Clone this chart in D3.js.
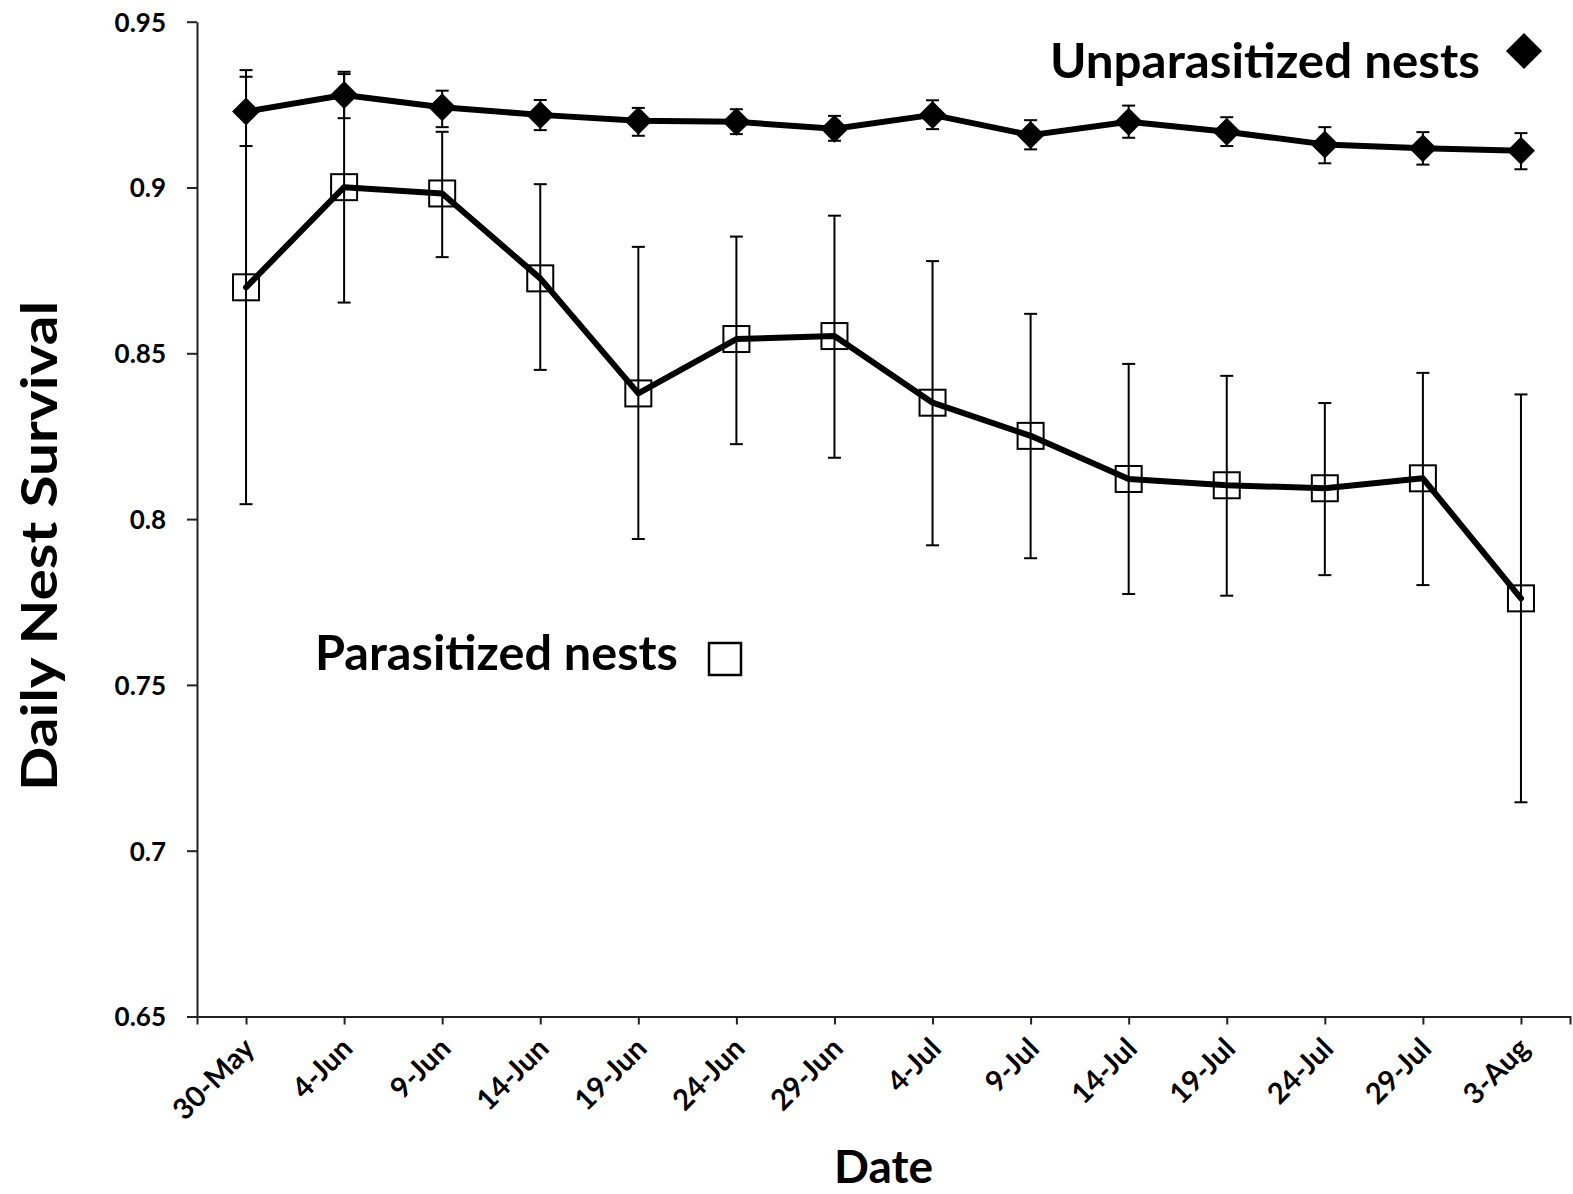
<!DOCTYPE html>
<html lang="en">
<head>
    <meta charset="UTF-8">
    <title>Daily Nest Survival</title>
    <script src="https://cdnjs.cloudflare.com/ajax/libs/d3/7.8.5/d3.min.js" charset="utf-8"></script>
    <style>
        body { margin: 0; background: #fff; }
        text { font-family: Lato, "Open Sans", sans-serif; font-weight: bold; fill: #000; }
    </style>
</head>
<body>
<svg id="chart" width="1573" height="1194"></svg>

<script type="application/javascript">
    var dates = ['30-May', '4-Jun', '9-Jun', '14-Jun', '19-Jun', '24-Jun', '29-Jun',
        '4-Jul', '9-Jul', '14-Jul', '19-Jul', '24-Jul', '29-Jul', '3-Aug'];

    var yTicks = [0.65, 0.7, 0.75, 0.8, 0.85, 0.9, 0.95];

    // unparasitized nests (mean, upper and lower bar ends)
    var unparMean = [0.9229, 0.9279, 0.9242, 0.9219, 0.9201, 0.9198, 0.9177, 0.9219, 0.9158, 0.9198, 0.9168, 0.9130, 0.9118, 0.9111];
    var unparHigh = [0.9334, 0.9342, 0.9292, 0.9264, 0.9240, 0.9236, 0.9216, 0.9263, 0.9203, 0.9247, 0.9212, 0.9182, 0.9167, 0.9164];
    var unparLow  = [0.9125, 0.9209, 0.9182, 0.9173, 0.9156, 0.9161, 0.9141, 0.9176, 0.9115, 0.9150, 0.9125, 0.9073, 0.9069, 0.9055];

    // parasitized nests
    var parMean = [0.8699, 0.9001, 0.8982, 0.8726, 0.8379, 0.8543, 0.8552, 0.8351, 0.8251, 0.8121, 0.8102, 0.8093, 0.8123, 0.7761];
    var parHigh = [0.9354, 0.9349, 0.9168, 0.9010, 0.8821, 0.8852, 0.8915, 0.8778, 0.8619, 0.8468, 0.8432, 0.8350, 0.8441, 0.8376];
    var parLow  = [0.8045, 0.8653, 0.8790, 0.8450, 0.7940, 0.8226, 0.8185, 0.7921, 0.7882, 0.7774, 0.7769, 0.7831, 0.7801, 0.7146];

    var plot = {left: 197, right: 1570, top: 21.7, bottom: 1016.5};

    var svg = d3.select('#chart');

    var x = d3.scalePoint()
            .domain(dates)
            .range([plot.left, plot.right])
            .padding(0.5);

    var y = d3.scaleLinear()
            .domain([0.65, 0.95])
            .range([plot.bottom, plot.top]);

    function rows(mean, low, high) {
        return dates.map(function (d, i) {
            return {date: d, mean: mean[i], low: low[i], high: high[i]};
        });
    }

    // d3's diamond2 puts its corners at sqrt(size) * 0.62625
    function diamondSize(halfDiag) {
        return Math.pow(halfDiag / 0.62625, 2);
    }

    var unpar = rows(unparMean, unparLow, unparHigh);
    var par = rows(parMean, parLow, parHigh);

    init();

    function init() {
        renderAxes();
        renderErrorBars(par);
        renderErrorBars(unpar);
        renderLine(par);
        renderLine(unpar);
        renderMarkers();
        renderLabels();
    }

    function renderAxes() {
        var yAxis = svg.append('g')
                .attr('transform', 'translate(' + plot.left + ',0)')
                .call(d3.axisLeft(y)
                        .tickValues(yTicks)
                        .tickSize(10)
                        .tickSizeOuter(0)
                        .tickPadding(21)
                        .tickFormat(function (d) { return String(+d.toFixed(2)); }));
        yAxis.selectAll('text').attr('font-size', '26px').attr('dy', '0.36em');

        var xAxis = svg.append('g')
                .attr('transform', 'translate(0,' + plot.bottom + ')')
                .call(d3.axisBottom(x).tickSize(8).tickSizeOuter(8));
        xAxis.selectAll('.tick text')
                .attr('font-size', '29px')
                .attr('text-anchor', 'end')
                .attr('dy', '0')
                .attr('transform', 'translate(2,26) rotate(-45)');

        svg.selectAll('.domain, .tick line')
                .attr('stroke', '#222')
                .attr('stroke-width', 2);
        svg.selectAll('.tick text').attr('fill', '#000').attr('font-family', 'Lato, sans-serif');
    }

    function renderErrorBars(data) {
        var g = svg.append('g')
                .attr('stroke', '#000')
                .attr('stroke-width', 2);

        g.selectAll('.stem')
                .data(data)
                .enter()
                .append('line')
                .attr('x1', function (d) { return x(d.date); })
                .attr('x2', function (d) { return x(d.date); })
                .attr('y1', function (d) { return y(d.high); })
                .attr('y2', function (d) { return y(d.low); });

        ['high', 'low'].forEach(function (k) {
            g.selectAll('.cap-' + k)
                    .data(data)
                    .enter()
                    .append('line')
                    .attr('x1', function (d) { return x(d.date) - 6.5; })
                    .attr('x2', function (d) { return x(d.date) + 6.5; })
                    .attr('y1', function (d) { return y(d[k]); })
                    .attr('y2', function (d) { return y(d[k]); });
        });
    }

    function renderLine(data) {
        var line = d3.line()
                .x(function (d) { return x(d.date); })
                .y(function (d) { return y(d.mean); });

        svg.append('path')
                .datum(data)
                .attr('d', line)
                .attr('fill', 'none')
                .attr('stroke', '#000')
                .attr('stroke-width', 6)
                .attr('stroke-linejoin', 'round')
                .attr('stroke-linecap', 'round');
    }

    function renderMarkers() {
        var diamond = d3.symbol().type(d3.symbolDiamond2).size(diamondSize(14));

        svg.selectAll('.square')
                .data(par)
                .enter()
                .append('rect')
                .attr('x', function (d) { return x(d.date) - 13; })
                .attr('y', function (d) { return y(d.mean) - 13; })
                .attr('width', 26)
                .attr('height', 26)
                .attr('fill', 'none')
                .attr('stroke', '#000')
                .attr('stroke-width', 2);

        svg.selectAll('.diamond')
                .data(unpar)
                .enter()
                .append('path')
                .attr('d', diamond)
                .attr('transform', function (d) {
                    return 'translate(' + x(d.date) + ',' + y(d.mean) + ')';
                })
                .attr('fill', '#000');

        // legend markers
        svg.append('path')
                .attr('d', d3.symbol().type(d3.symbolDiamond2).size(diamondSize(18))())
                .attr('transform', 'translate(1524,51)')
                .attr('fill', '#000');

        svg.append('rect')
                .attr('x', 709)
                .attr('y', 643)
                .attr('width', 32)
                .attr('height', 32)
                .attr('fill', 'none')
                .attr('stroke', '#000')
                .attr('stroke-width', 2.5);
    }

    function renderLabels() {
        svg.append('text')
                .attr('x', 1050)
                .attr('y', 78)
                .attr('font-size', '48px')
                .attr('textLength', 430)
                .attr('lengthAdjust', 'spacingAndGlyphs')
                .text('Unparasitized nests');

        svg.append('text')
                .attr('x', 315)
                .attr('y', 670)
                .attr('font-size', '48px')
                .attr('textLength', 363)
                .attr('lengthAdjust', 'spacingAndGlyphs')
                .text('Parasitized nests');

        svg.append('text')
                .attr('transform', 'translate(57,546) rotate(-90)')
                .attr('text-anchor', 'middle')
                .attr('font-size', '50px')
                .attr('textLength', 490)
                .attr('lengthAdjust', 'spacingAndGlyphs')
                .text('Daily Nest Survival');

        svg.append('text')
                .attr('x', 883.5)
                .attr('y', 1183)
                .attr('text-anchor', 'middle')
                .attr('font-size', '46px')
                .text('Date');
    }
</script>
</body>
</html>
